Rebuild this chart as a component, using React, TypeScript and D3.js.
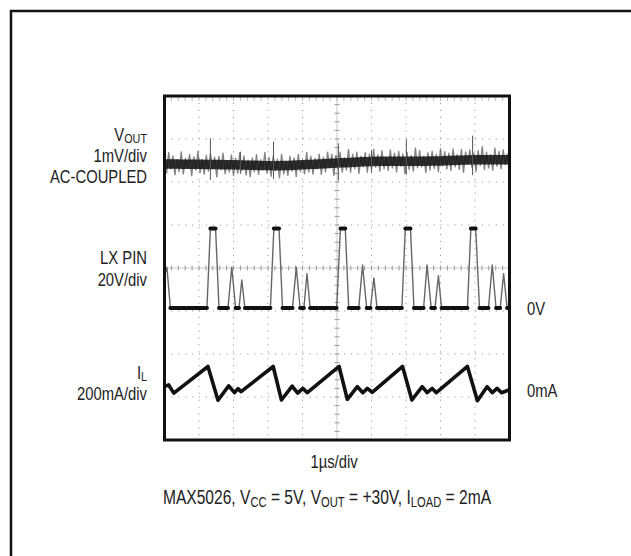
import React from "react";
import * as d3 from "d3";

const W = 631;
const H = 556;

// scope screen: 10 x 8 divisions, 1us/div
const X_DIVS = 10;
const Y_DIVS = 8;

// LX pin trace (20V/div): time in us, volts
const lxT = [0, 0.07, 0.17,
  1.23, 1.33, 1.48, 1.58, 1.84, 1.95, 2.06, 2.16, 2.24, 2.33,
  3.07, 3.17, 3.32, 3.42, 3.71, 3.82, 3.93, 4.04, 4.13, 4.22,
  4.99, 5.1, 5.24, 5.34, 5.63, 5.74, 5.86, 5.97, 6.07, 6.16,
  6.88, 6.98, 7.13, 7.23, 7.51, 7.61, 7.73, 7.84, 7.94, 8.03,
  8.78, 8.88, 9.02, 9.13, 9.39, 9.5, 9.61, 9.73, 9.83, 9.93,
  10];
const lxV = [15, 19, 0,
  0, 37, 37, 0, 0, 19, 0, 0, 13, 0,
  0, 37, 37, 0, 0, 19, 0, 0, 16, 0,
  0, 37, 37, 0, 0, 20, 0, 0, 14, 0,
  0, 37, 37, 0, 0, 20, 0, 0, 15, 0,
  0, 37, 37, 0, 0, 20, 0, 0, 16, 0,
  0];

// inductor current (200mA/div): time in us, mA
const ilT = [0, 0.12, 0.27,
  1.26, 1.55, 1.86, 2.03, 2.13, 2.22,
  3.15, 3.39, 3.7, 3.86, 4.01, 4.14,
  5.06, 5.3, 5.59, 5.75, 5.88, 6.02,
  6.9, 7.17, 7.47, 7.61, 7.76, 7.88,
  8.78, 9.07, 9.35, 9.5, 9.64, 9.77,
  10];
const ilV = [20, 28, -10,
  114, -43, 24, -8, 11, -3,
  114, -42, 23, -10, 12, -8,
  114, -39, 20, -8, 12, -6,
  114, -42, 20, -8, 12, -8,
  114, -45, 20, -8, 12, -8,
  6];

// VOUT (1mV/div, AC coupled): slow wander, mV
const vwT = [0, 1, 2, 3, 3.5, 4, 5, 6, 7, 8, 9, 10];
const vwV = [-0.02, -0.03, -0.04, -0.06, -0.06, -0.04, 0, 0.04, 0.04, 0.05, 0.08, 0.08];
// switching spikes on VOUT
const vSpikeT = [1.33, 2.2, 3.16, 5.04, 6.0, 7.01, 8.93];
const vSpikeHi = [0.6, 0.3, 0.55, 0.45, 0.25, 0.5, 0.55];
const vSpikeLo = [-0.35, -0.2, -0.3, -0.4, -0.25, -0.3, -0.35];
// ripple noise, in counts of NOISE_UNIT mV, evenly spaced over the sweep
const NOISE_UNIT = 0.019;
const vNoise = [8, -11, 14, -6, 10, -13, 5, -9, 15, -12, 7, -4, 12, -14, 9, -7, 16, -10, 6, -12,
  11, -8, 13, -5, 9, -15, 10, -6, 14, -11, 5, -9, 12, -13, 8, -10, 15, -7, 11, -12,
  6, -14, 9, -8, 13, -11, 7, -5, 16, -9, 10, -13, 12, -6, 8, -15, 14, -10, 5, -12,
  11, -7, 9, -14, 13, -8, 6, -11, 15, -9, 10, -12, 7, -6, 12, -13, 8, -10, 14, -5,
  11, -15, 9, -7, 13, -11, 6, -9, 16, -12, 10, -8, 12, -14, 7, -6, 11, -13, 9, -10,
  15, -7, 8, -12, 13, -9, 5, -11, 14, -8, 10, -13, 12, -6, 9, -15, 11, -10, 7, -12,
  16, -8, 13, -7, 6, -14, 10, -11, 12, -9, 8, -13, 15, -6, 11, -10, 9, -12, 14, -8,
  7, -11, 13, -15, 10, -5, 12, -9, 8, -14, 11, -7, 16, -12, 9, -10, 6, -13, 14, -8,
  10, -11, 12, -6, 7, -9];

// channel settings: position of zero (in divisions from centre) and units per div
const LX_ZERO = -0.93;
const LX_PER_DIV = 20;
const IL_ZERO = -2.86;
const IL_PER_DIV = 200;
const VO_ZERO = 2.44;
const VO_PER_DIV = 1;

const FONT = "'Liberation Sans', Arial, sans-serif";

// narrow sans text, like the datasheet font
function Label({ x, y, anchor = "start", size = 18.5, children }:
  { x: number; y: number; anchor?: string; size?: number; children: any }) {
  return (
    <text transform={`translate(${x},${y}) scale(0.8,1)`} textAnchor={anchor}
      style={{ fontFamily: FONT, fontSize: size, fill: "#222" }}>
      {children}
    </text>
  );
}

export default function App() {
  const plot = { left: 164.5, top: 96, right: 509.5, bottom: 440 };
  const x = d3.scaleLinear().domain([0, X_DIVS]).range([plot.left, plot.right]);
  const y = d3.scaleLinear().domain([-Y_DIVS / 2, Y_DIVS / 2]).range([plot.bottom, plot.top]);

  const lxY = (v: number) => y(LX_ZERO + v / LX_PER_DIV);
  const ilY = (v: number) => y(IL_ZERO + v / IL_PER_DIV);
  const voY = (v: number) => y(VO_ZERO + v / VO_PER_DIV);

  const lxPts = lxT.map((t, i) => [t, lxV[i]] as [number, number]);
  const lxLine = d3.line<[number, number]>().x((d) => x(d[0])).y((d) => lxY(d[1]));
  // flat parts of the LX trace, where the beam dwells and looks bold
  const lxDwell = lxPts
    .slice(1)
    .map((p, i) => [lxPts[i], p] as [number, number][])
    .filter(([a, b]) => a[1] === b[1])
    .map((seg) => lxLine(seg))
    .join("");

  const ilPts = ilT.map((t, i) => [t, ilV[i]] as [number, number]);
  const ilLine = d3.line<[number, number]>().x((d) => x(d[0])).y((d) => ilY(d[1]));

  const wander = d3.scaleLinear().domain(vwT).range(vwV);
  const wanderLine = d3
    .line<number>()
    .x((t) => x(t))
    .y((t) => voY(wander(t)))
    .curve(d3.curveBasis);
  const noiseT = vNoise.map((_, i) => (i / (vNoise.length - 1)) * X_DIVS);
  const noiseLine = d3
    .line<number>()
    .x((_, i) => x(noiseT[i]))
    .y((n, i) => voY(wander(noiseT[i]) + n * NOISE_UNIT));

  const gridX = d3.range(1, X_DIVS);
  const gridY = d3.range(-Y_DIVS / 2 + 1, Y_DIVS / 2);
  const minorX = d3.range(0, X_DIVS * 5 + 1).map((i) => i / 5);
  const minorY = d3.range(0, Y_DIVS * 5 + 1).map((i) => -Y_DIVS / 2 + i / 5);

  return (
    <svg width={W} height={H} style={{ position: "absolute", left: 0, top: 0, background: "#fff" }}>
      <defs>
        <clipPath id="screen">
          <rect x={plot.left} y={plot.top} width={plot.right - plot.left} height={plot.bottom - plot.top} />
        </clipPath>
      </defs>
      <rect x={11} y={11} width={W + 20} height={H + 20} fill="#fff" stroke="#111" strokeWidth={2.5} />

      {/* graticule */}
      <g stroke="#9a9a9a" strokeWidth={1}>
        {gridX.map((d) => d !== 5 && (
          <line key={"gx" + d} x1={x(d)} x2={x(d)} y1={plot.top} y2={plot.bottom} strokeDasharray="1.2 5.7" />
        ))}
        {gridY.map((d) => d !== 0 && (
          <line key={"gy" + d} x1={plot.left} x2={plot.right} y1={y(d)} y2={y(d)} strokeDasharray="1.2 5.7" />
        ))}
        <line x1={x(5)} x2={x(5)} y1={plot.top} y2={plot.bottom} stroke="#c8c8c8" />
        <line x1={plot.left} x2={plot.right} y1={y(0)} y2={y(0)} stroke="#c8c8c8" />
        {minorY.map((d, i) => (
          <line key={"my" + i} x1={x(5) - 2.5} x2={x(5) + 2.5} y1={y(d)} y2={y(d)} />
        ))}
        {minorX.map((d, i) => (
          <line key={"mx" + i} x1={x(d)} x2={x(d)} y1={y(0) - 2.5} y2={y(0) + 2.5} />
        ))}
        {minorX.map((d, i) => (
          <line key={"mt" + i} x1={x(d)} x2={x(d)} y1={plot.top} y2={plot.top + 5} stroke="#bbb" />
        ))}
      </g>

      <g clipPath="url(#screen)" fill="none" strokeLinejoin="round" strokeLinecap="round">
        {/* VOUT ripple */}
        <path d={noiseLine(vNoise) || ""} stroke="#333" strokeWidth={1.4} opacity={0.6} />
        <path d={wanderLine(d3.range(0, X_DIVS + 0.01, 0.25)) || ""} stroke="#111" strokeWidth={9.5} opacity={0.85} />
        {vSpikeT.map((t, i) => (
          <line key={"sp" + i} x1={x(t)} x2={x(t)} y1={voY(wander(t) + vSpikeHi[i])} y2={voY(wander(t) + vSpikeLo[i])}
            stroke="#555" strokeWidth={1} />
        ))}

        {/* LX pin */}
        <path d={lxLine(lxPts) || ""} stroke="#666" strokeWidth={1.4} />
        <path d={lxDwell} stroke="#111" strokeWidth={4} />

        {/* inductor current */}
        <path d={ilLine(ilPts) || ""} stroke="#111" strokeWidth={3.6} />
      </g>

      <rect x={plot.left} y={plot.top} width={plot.right - plot.left} height={plot.bottom - plot.top}
        fill="none" stroke="#111" strokeWidth={3} />

      {/* channel labels */}
      <Label x={147} y={140.5} anchor="end">V<tspan fontSize={13.5} dy={2}>OUT</tspan></Label>
      <Label x={147} y={161.5} anchor="end">1mV/div</Label>
      <Label x={147} y={182.5} anchor="end">AC-COUPLED</Label>
      <Label x={147} y={264} anchor="end">LX PIN</Label>
      <Label x={147} y={285.5} anchor="end">20V/div</Label>
      <Label x={147} y={378.5} anchor="end">I<tspan fontSize={13.5} dy={2}>L</tspan></Label>
      <Label x={147} y={400} anchor="end">200mA/div</Label>
      <Label x={527} y={lxY(0) + 7}>0V</Label>
      <Label x={527} y={ilY(0) + 6}>0mA</Label>
      <Label x={334} y={468} anchor="middle">1µs/div</Label>
      <Label x={327} y={503.5} anchor="middle" size={19.5}>
        MAX5026, V<tspan fontSize={14} dy={3}>CC</tspan><tspan dy={-3}> = 5V, V</tspan>
        <tspan fontSize={14} dy={3}>OUT</tspan><tspan dy={-3}> = +30V, I</tspan>
        <tspan fontSize={14} dy={3}>LOAD</tspan><tspan dy={-3}> = 2mA</tspan>
      </Label>
    </svg>
  );
}
